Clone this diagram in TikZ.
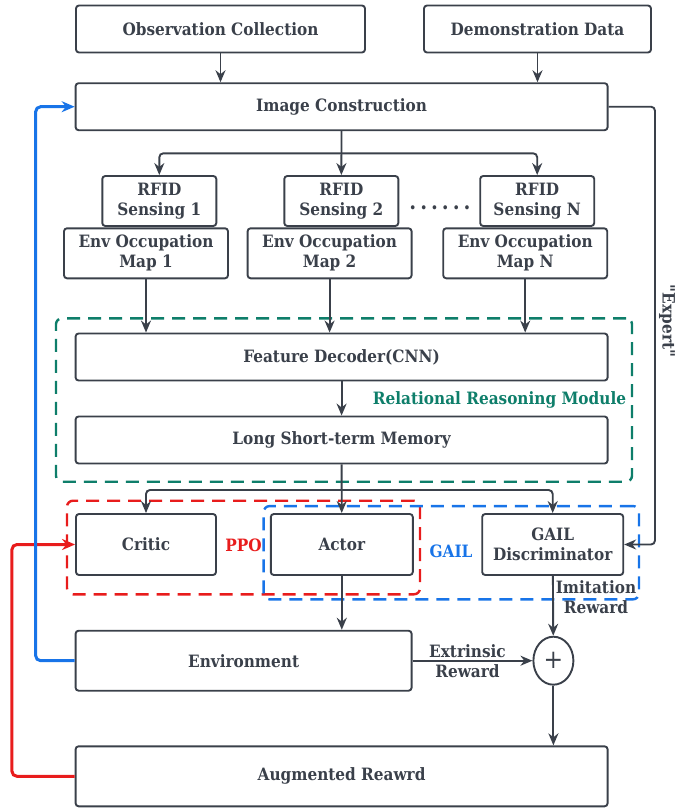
\documentclass[tikz,border=0pt]{standalone}
\usepackage{fontspec}
\setmainfont{DejaVu Serif Condensed}
\usetikzlibrary{arrows.meta}
\usetikzlibrary{shapes.geometric}

\definecolor{ink}{RGB}{58,64,74}
\definecolor{rrmgreen}{RGB}{14,126,106}
\definecolor{ppored}{RGB}{232,28,28}
\definecolor{gailblue}{RGB}{24,116,232}

\begin{document}
\begin{tikzpicture}[x=1pt,y=-1pt,>={Stealth[length=12pt,width=10pt]},line width=1.9pt,color=ink,
        block/.style={draw=ink,rounded corners=3pt,inner sep=0pt,minimum height=47pt,align=center,text=ink,font=\fontsize{17}{20}\selectfont\bfseries},
        group/.style={draw=#1,dash pattern=on 13pt off 8pt,line width=2.4pt,rounded corners=6pt,inner sep=0pt},
        tag/.style={text=#1,font=\fontsize{17}{20}\selectfont\bfseries},
        loop/.style={draw=#1,line width=3pt,rounded corners=5pt,>={Stealth[length=13pt,width=11pt]}}]
    \useasboundingbox (0,0) rectangle (678,809);
    % inputs
    \node[block,minimum width=289pt] (obs) at (220.5,29) {Observation Collection};
    \node[block,minimum width=227pt] (demo) at (537.5,29) {Demonstration Data};
    \node[block,minimum width=532pt] (img) at (341.6,106.7) {Image Construction};
    % per-sensor branches
    \node[block,minimum width=114pt,minimum height=50pt] (rfid1) at (159.3,201) {RFID\\Sensing 1};
    \node[block,minimum width=114pt,minimum height=50pt] (rfid2) at (341.3,201) {RFID\\Sensing 2};
    \node[block,minimum width=114pt,minimum height=50pt] (rfidN) at (537.2,201) {RFID\\Sensing N};
    \node[tag=ink,font=\fontsize{22}{22}\selectfont\bfseries\addfontfeature{LetterSpace=18}] (dots) at (440,208) {......};
    \node[block,minimum width=164pt,minimum height=50pt] (env1) at (146,253.3) {Env Occupation\\Map 1};
    \node[block,minimum width=164pt,minimum height=50pt] (env2) at (329.6,253.3) {Env Occupation\\Map 2};
    \node[block,minimum width=164pt,minimum height=50pt] (envN) at (525.2,253.3) {Env Occupation\\Map N};
    % relational reasoning
    \node[group=rrmgreen,minimum width=576pt,minimum height=163.4pt] (rrm) at (344,400) {};
    \node[block,minimum width=532pt] (dec) at (341.6,357) {Feature Decoder(CNN)};
    \node[block,minimum width=532pt] (lstm) at (341.6,440) {Long Short-term Memory};
    \node[tag=rrmgreen] (rrmtag) at (499.5,400) {Relational Reasoning Module};
    % ppo / gail
    \node[group=ppored,minimum width=353pt,minimum height=93.6pt] (ppo) at (243.5,547.5) {};
    \node[group=gailblue,minimum width=375.3pt,minimum height=93.3pt] (gail) at (451.3,552.7) {};
    \node[block,minimum width=140pt,minimum height=61pt] (critic) at (146,544.5) {Critic};
    \node[block,minimum width=142pt,minimum height=61pt] (actor) at (341.8,544.5) {Actor};
    \node[block,minimum width=141pt,minimum height=61pt] (disc) at (552.7,544.5) {GAIL\\Discriminator};
    \node[tag=ppored] (ppotag) at (243.5,545.7) {PPO};
    \node[tag=gailblue] (gailtag) at (451,551) {GAIL};
    % rewards
    \node[block,minimum width=336pt,minimum height=60pt] (env) at (243.6,660.7) {Environment};
    \node[draw=ink,ellipse,inner sep=0pt,minimum width=40pt,minimum height=48pt,text=ink,font=\fontsize{26}{26}\selectfont] (plus) at (553.4,660.7) {+};
    \node[block,minimum width=532pt,minimum height=60pt] (aug) at (341.6,776.3) {Augmented Reawrd};

    \coordinate (split1) at (341.6,153.3);
    \coordinate (split2) at (341.6,490);
    \coordinate (bend) at (655,106.7);

    \draw[->] (obs) -- (obs |- img.north);
    \draw[->] (demo) -- (demo |- img.north);
    \draw[->] (img) -- (rfid2);
    \draw[->,rounded corners=4pt] (split1) -| (rfid1);
    \draw[->,rounded corners=4pt] (split1) -| (rfidN);
    \foreach \m in {env1,env2,envN}
        \draw[->] (\m) -- (\m |- dec.north);
    \draw[->] (dec) -- (lstm);
    \draw[->] (lstm) -- (actor);
    \draw[->,rounded corners=4pt] (split2) -| (critic);
    \draw[->,rounded corners=4pt] (split2) -| (disc);
    \draw[->] (actor) -- (actor |- env.north);
    \draw[->] (disc) -- (plus);
    \draw[->] (plus) -- (aug.north -| plus);
    \draw[->] (env) -- (plus) node[midway,align=center,tag=ink,xshift=-5pt] {Extrinsic\\Reward};
    \node[tag=ink,align=center] (imit) at (596,597) {Imitation\\Reward};
    \draw[->,rounded corners=4pt] (img.east) -- (bend) |- (disc.east);
    \node[tag=ink,rotate=-90] (expert) at (667,321) {\textquotedbl Expert\textquotedbl};
    % feedback loops
    \draw[loop=ppored,->] (aug.west) -- +(-62.7,0) |- (critic.west);
    \draw[loop=gailblue,->] (env.west) -- +(-39,0) |- (img.west);
\end{tikzpicture}
\end{document}
